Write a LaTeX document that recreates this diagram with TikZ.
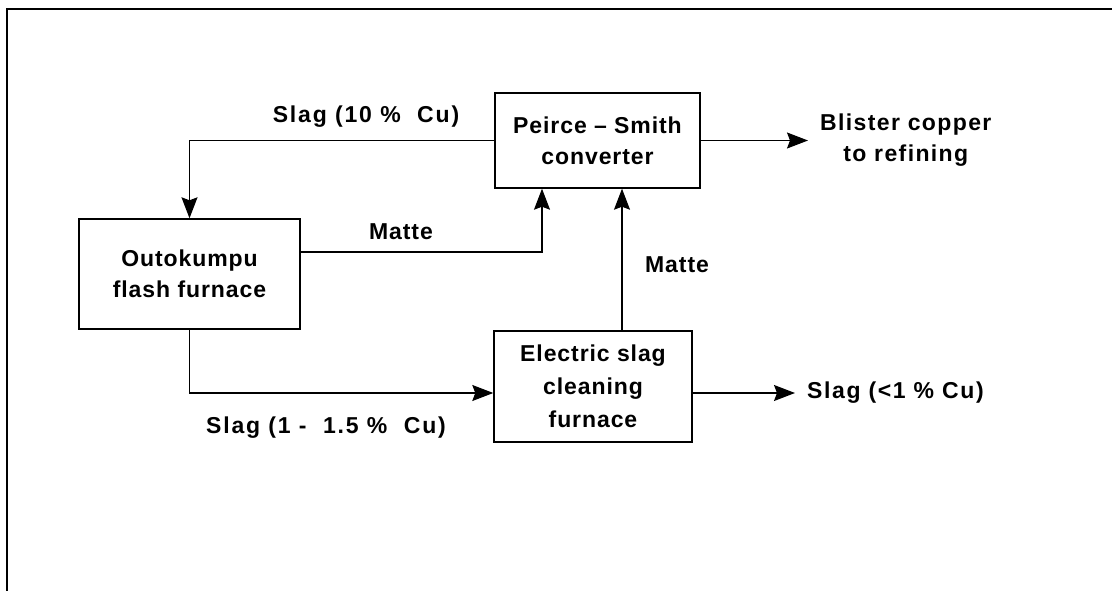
\documentclass[tikz,border=0pt]{standalone}
\usepackage{fontspec}
\setmainfont{Liberation Sans}[LetterSpace=4]
\usetikzlibrary{arrows.meta}
\tikzset{
  unit/.style={draw, line width=1.4pt, align=center, inner sep=0pt},
  flow/.style={line width=1.2pt, -{Stealth[length=21pt,width=16pt,inset=3pt]}},
  tag/.style={align=center, inner sep=6pt},
}
\begin{document}
\begin{tikzpicture}[x=1pt,y=-1pt,font=\fontsize{23}{31}\selectfont\bfseries]
\useasboundingbox (0,0) rectangle (1112,591);
\draw[line width=2pt] (7,591) -- (7,9) -- (1112,9);

\node[unit, minimum width=205pt, minimum height=95pt] (psc) at (597.5,140.5) {Peirce -- Smith\\converter};
\node[unit, minimum width=221pt, minimum height=110pt] (ofk) at (189.5,274) {Outokumpu\\flash furnace};
\node[unit, minimum width=198pt, minimum height=111pt, font=\fontsize{23}{33}\selectfont\bfseries] (esf) at (593,386.5) {Electric slag\\cleaning\\furnace};
\node[tag, anchor=west, font=\fontsize{23}{31}\selectfont\bfseries\addfontfeatures{LetterSpace=6}] (blister) at (814,140.5) {Blister copper\\to refining};
\node[tag, anchor=west, font=\fontsize{23}{31}\selectfont\bfseries\addfontfeatures{LetterSpace=7}] (slagout) at (801,393) {Slag (<1 \%\ Cu)};

\draw[flow] (psc.west) -| (ofk.north);
\node[tag, font=\fontsize{23}{31}\selectfont\bfseries\addfontfeatures{LetterSpace=8}] (slagten) at (366,117) {Slag (10 \%\ \ Cu)};
\draw[flow] ([yshift=22pt]ofk.east) -| ([xshift=-55.5pt]psc.south);
\node[tag] (matteone) at (401,232) {Matte};
\draw[flow] ([xshift=29pt]esf.north) -- ([xshift=24.5pt]psc.south);
\node[tag] (mattetwo) at (677,265) {Matte};
\draw[flow] (ofk.south) |- ([yshift=-6.5pt]esf.west);
\node[tag, font=\fontsize{23}{31}\selectfont\bfseries\addfontfeatures{LetterSpace=8}] (slagone) at (326,428) {Slag (1 -\ \ 1.5 \%\ \ Cu)};
\draw[flow, shorten >=6pt] (psc.east) -- (blister.west);
\draw[flow, shorten >=6pt] ([yshift=-6.5pt]esf.east) -- (slagout.west);

\end{tikzpicture}
\end{document}
